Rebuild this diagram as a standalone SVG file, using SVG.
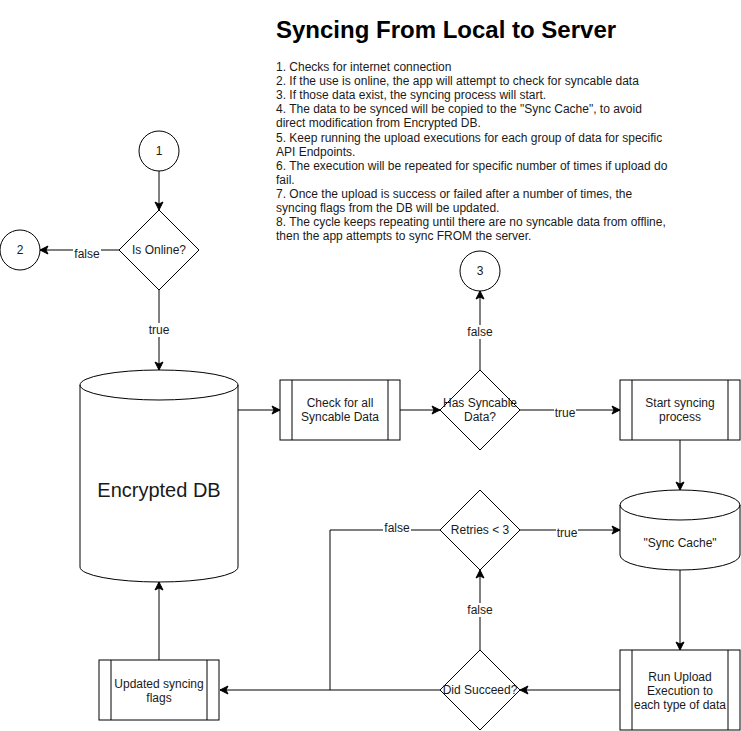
<svg xmlns="http://www.w3.org/2000/svg" width="741" height="731" viewBox="0 0 741 731">
<defs>
<marker id="arr" markerUnits="userSpaceOnUse" markerWidth="10" markerHeight="10" viewBox="0 0 10 10" refX="9" refY="5" orient="auto">
<path d="M1,1 L9,5 L1,9 L3,5 Z" fill="#000" stroke="#000" stroke-width="1"/>
</marker>
</defs>
<style>
.s{fill:#fff;stroke:#000;stroke-width:1}
.l{fill:none;stroke:#000;stroke-width:1}
text{font-family:"Liberation Sans",Arial,sans-serif;font-size:12px;fill:#1a1a1a}
.c{text-anchor:middle}
.lb{fill:#fff;stroke:none}
</style>
<rect width="741" height="731" fill="#fff"/>
<g id="title">
<text x="276" y="38" style="font-size:24px;font-weight:bold;fill:#000">Syncing From Local to Server</text>
</g>
<g id="notes">
<text x="276" y="71">1. Checks for internet connection</text>
<text x="276" y="85">2. If the use is online, the app will attempt to check for syncable data</text>
<text x="276" y="99">3. If those data exist, the syncing process will start.</text>
<text x="276" y="113">4. The data to be synced will be copied to the "Sync Cache", to avoid</text>
<text x="276" y="127">direct modification from Encrypted DB.</text>
<text x="276" y="142">5. Keep running the upload executions for each group of data for specific</text>
<text x="276" y="156">API Endpoints.</text>
<text x="276" y="170">6. The execution will be repeated for specific number of times if upload do</text>
<text x="276" y="184">fail.</text>
<text x="276" y="198">7. Once the upload is success or failed after a number of times, the</text>
<text x="276" y="212">syncing flags from the DB will be updated.</text>
<text x="276" y="226">8. The cycle keeps repeating until there are no syncable data from offline,</text>
<text x="276" y="240">then the app attempts to sync FROM the server.</text>
</g>
<g id="connectors">
<path class="l" d="M159,171 L159,210" marker-end="url(#arr)"/>
<path class="l" d="M119,250 L40,250" marker-end="url(#arr)"/>
<path class="l" d="M159,290 L159,370" marker-end="url(#arr)"/>
<path class="l" d="M238,410 L280,410" marker-end="url(#arr)"/>
<path class="l" d="M400,410 L440,410" marker-end="url(#arr)"/>
<path class="l" d="M480,370 L480,291" marker-end="url(#arr)"/>
<path class="l" d="M520,410 L620,410" marker-end="url(#arr)"/>
<path class="l" d="M680,440 L680,490" marker-end="url(#arr)"/>
<path class="l" d="M680,570 L680,650" marker-end="url(#arr)"/>
<path class="l" d="M620,690 L520,690" marker-end="url(#arr)"/>
<path class="l" d="M480,650 L480,570" marker-end="url(#arr)"/>
<path class="l" d="M520,530 L620,530" marker-end="url(#arr)"/>
<path class="l" d="M440,530 L330,530 L330,690"/>
<path class="l" d="M440,690 L220,690" marker-end="url(#arr)"/>
<path class="l" d="M159,660 L159,582" marker-end="url(#arr)"/>
<rect class="lb" x="73" y="244" width="28" height="14"/>
<text class="c" x="87" y="258">false</text>
<rect class="lb" x="148" y="323" width="22" height="14"/>
<text class="c" x="159" y="334">true</text>
<rect class="lb" x="466" y="325" width="28" height="14"/>
<text class="c" x="480" y="336">false</text>
<rect class="lb" x="554" y="406" width="22" height="14"/>
<text class="c" x="565" y="417">true</text>
<rect class="lb" x="383" y="521" width="28" height="12"/>
<text class="c" x="397" y="532">false</text>
<rect class="lb" x="556" y="526" width="22" height="14"/>
<text class="c" x="567" y="537">true</text>
<rect class="lb" x="466" y="603" width="28" height="14"/>
<text class="c" x="480" y="614">false</text>
</g>
<g id="n1">
<circle class="s" cx="159" cy="151" r="20"/>
<text class="c" x="159" y="155">1</text>
</g>
<g id="n2">
<circle class="s" cx="20" cy="250" r="20"/>
<text class="c" x="20" y="254">2</text>
</g>
<g id="isOnline">
<path class="s" d="M159,210 L199,250 L159,290 L119,250 Z"/>
<text class="c" x="159" y="254">Is Online?</text>
</g>
<g id="encryptedDB">
<path class="s" d="M80,385 A79,15 0 0 1 238,385 L238,567 A79,15 0 0 1 80,567 Z"/>
<path class="l" d="M80,385 A79,15 0 0 0 238,385"/>
<text class="c" x="159" y="497" style="font-size:20px">Encrypted DB</text>
</g>
<g id="checkSyncable">
<rect class="s" x="280" y="380" width="120" height="60"/>
<path class="l" d="M292,380 V440 M388,380 V440"/>
<text class="c" x="340" y="407">Check for all</text>
<text class="c" x="340" y="421">Syncable Data</text>
</g>
<g id="hasSyncable">
<path class="s" d="M480,370 L520,410 L480,450 L440,410 Z"/>
<text class="c" x="480" y="407">Has Syncable</text>
<text class="c" x="480" y="421">Data?</text>
</g>
<g id="n3">
<circle class="s" cx="480" cy="271" r="20"/>
<text class="c" x="480" y="275">3</text>
</g>
<g id="startSync">
<rect class="s" x="620" y="380" width="120" height="60"/>
<path class="l" d="M632,380 V440 M728,380 V440"/>
<text class="c" x="680" y="407">Start syncing</text>
<text class="c" x="680" y="421">process</text>
</g>
<g id="syncCache">
<path class="s" d="M620,505 A60,15 0 0 1 740,505 L740,555 A60,15 0 0 1 620,555 Z"/>
<path class="l" d="M620,505 A60,15 0 0 0 740,505"/>
<text class="c" x="680" y="547">"Sync Cache"</text>
</g>
<g id="retries">
<path class="s" d="M480,490 L520,530 L480,570 L440,530 Z"/>
<text class="c" x="480" y="534">Retries &lt; 3</text>
</g>
<g id="runUpload">
<rect class="s" x="620" y="650" width="120" height="80"/>
<path class="l" d="M632,650 V730 M728,650 V730"/>
<text class="c" x="680" y="681">Run Upload</text>
<text class="c" x="680" y="695">Execution to</text>
<text class="c" x="680" y="709">each type of data</text>
</g>
<g id="didSucceed">
<path class="s" d="M480,650 L520,690 L480,730 L440,690 Z"/>
<text class="c" x="480" y="694">Did Succeed?</text>
</g>
<g id="updatedFlags">
<rect class="s" x="99" y="660" width="120" height="60"/>
<path class="l" d="M111,660 V720 M207,660 V720"/>
<text class="c" x="159" y="688">Updated syncing</text>
<text class="c" x="159" y="702">flags</text>
</g>
</svg>
